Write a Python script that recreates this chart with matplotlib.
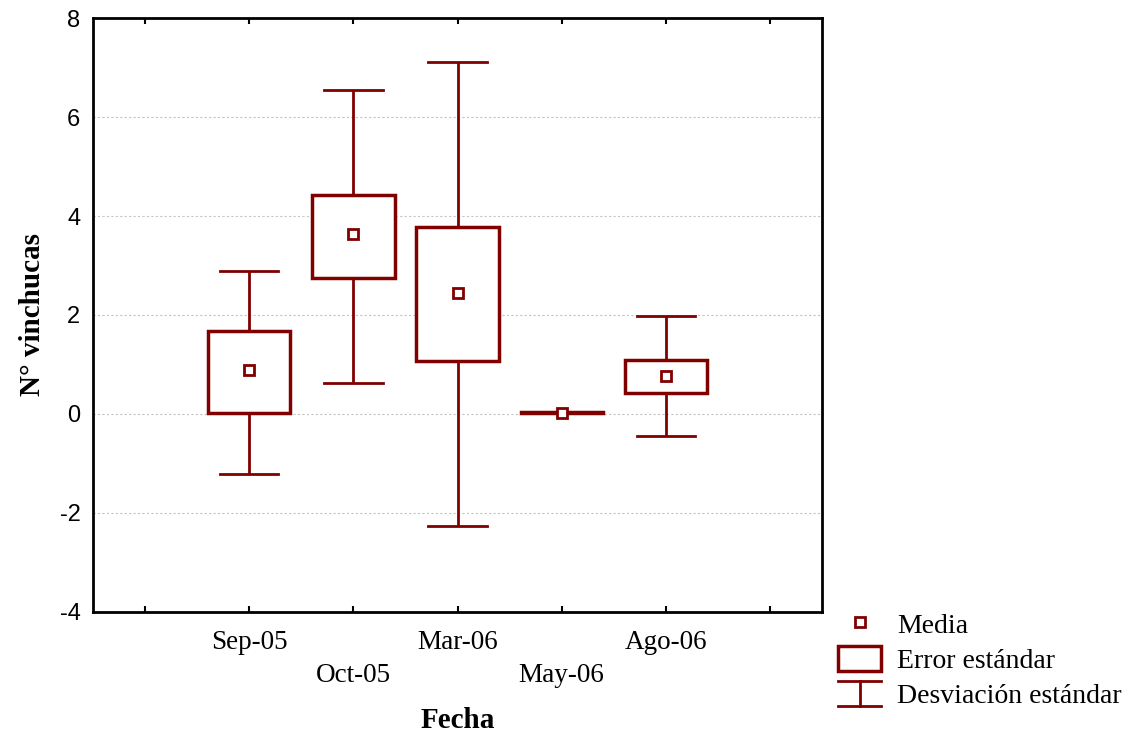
import matplotlib
matplotlib.use("Agg")
import matplotlib.pyplot as plt
import matplotlib.patches as mpatches
from matplotlib.lines import Line2D
from matplotlib.legend_handler import HandlerBase

# ---- data ----
categories = ["Sep-05", "Oct-05", "Mar-06", "May-06", "Ago-06"]
means = [0.88, 3.63, 2.44, 0.03, 0.76]
se_low = [0.02, 2.74, 1.08, 0.02, 0.42]
se_high = [1.67, 4.43, 3.77, 0.04, 1.10]
sd_low = [-1.21, 0.62, -2.27, 0.02, -0.45]
sd_high = [2.88, 6.55, 7.12, 0.04, 1.97]
yticks = [-4, -2, 0, 2, 4, 6, 8]
ytick_labels = ["-4", "-2", "0", "2", "4", "6", "8"]

RED = "#800000"
positions = list(range(1, len(categories) + 1))

fig = plt.figure(figsize=(11.45, 7.39), dpi=100)
ax = fig.add_axes([0.0812, 0.1719, 0.6368, 0.8037])

box_w = 0.79
cap_w = 0.56
for x, m, sl, sh, dl, dh in zip(positions, means, se_low, se_high, sd_low, sd_high):
    # whiskers (SD)
    ax.plot([x, x], [sh, dh], color=RED, lw=2, zorder=3, solid_capstyle="butt")
    ax.plot([x, x], [dl, sl], color=RED, lw=2, zorder=3, solid_capstyle="butt")
    ax.plot([x - cap_w / 2, x + cap_w / 2], [dh, dh], color=RED, lw=2, zorder=3)
    ax.plot([x - cap_w / 2, x + cap_w / 2], [dl, dl], color=RED, lw=2, zorder=3)
    # SE box
    ax.add_patch(mpatches.Rectangle((x - box_w / 2, sl), box_w, sh - sl,
                                    fc="white", ec=RED, lw=2.5, zorder=4))
    # mean
    ax.plot([x], [m], marker="s", ms=7, mfc="white", mec=RED, mew=2, zorder=5)

ax.set_xlim(-0.5, 6.5)
ax.set_ylim(-4, 8)
ax.set_yticks(yticks)
ax.set_yticklabels(ytick_labels, fontfamily="Liberation Sans", fontsize=17)
ax.set_xticks(range(0, 7))
xlabels = [""] + [c if i % 2 == 0 else "\n" + c for i, c in enumerate(categories)] + [""]
ax.set_xticklabels(xlabels, fontfamily="Liberation Serif", fontsize=19.5, linespacing=1.42)
ax.tick_params(axis="x", direction="in", top=True, length=4, width=1.5, pad=13)
ax.tick_params(axis="y", length=0, pad=9)
ax.yaxis.grid(True, linestyle=(0, (2, 2)), color="#c4c4c4", lw=0.8)
ax.set_axisbelow(True)
for s in ax.spines.values():
    s.set_linewidth(2)

ax.set_xlabel("Fecha", fontfamily="Liberation Serif", fontweight="bold", fontsize=21, labelpad=14)
ax.set_ylabel("N° vinchucas", fontfamily="Liberation Serif", fontweight="bold", fontsize=21, labelpad=10)


class WhiskerHandler(HandlerBase):
    def create_artists(self, legend, orig_handle, xdescent, ydescent, width, height, fontsize, trans):
        x0, x1 = -xdescent, -xdescent + width
        y0, y1 = -ydescent, -ydescent + height
        xm = (x0 + x1) / 2
        arts = [
            Line2D([x0, x1], [y0, y0], color=RED, lw=2),
            Line2D([x0, x1], [y1, y1], color=RED, lw=2),
            Line2D([xm, xm], [y0, y1], color=RED, lw=2),
        ]
        for a in arts:
            a.set_transform(trans)
        return arts


h_mean = Line2D([], [], marker="s", ms=7, mfc="white", mec=RED, mew=2, ls="none")
h_se = mpatches.Rectangle((0, 0), 1, 1, fc="white", ec=RED, lw=2.5)
h_sd = object()
leg = fig.legend([h_mean, h_se, h_sd], ["Media", "Error estándar", "Desviación estándar"],
                 handler_map={h_sd: WhiskerHandler()},
                 loc="upper left", bbox_to_anchor=(0.7225, 0.188), frameon=False,
                 prop={"family": "Liberation Serif", "size": 20},
                 handlelength=1.55, handleheight=1.0, handletextpad=0.55,
                 labelspacing=0.25, borderaxespad=0)

fig.savefig("out.png", dpi=100)
